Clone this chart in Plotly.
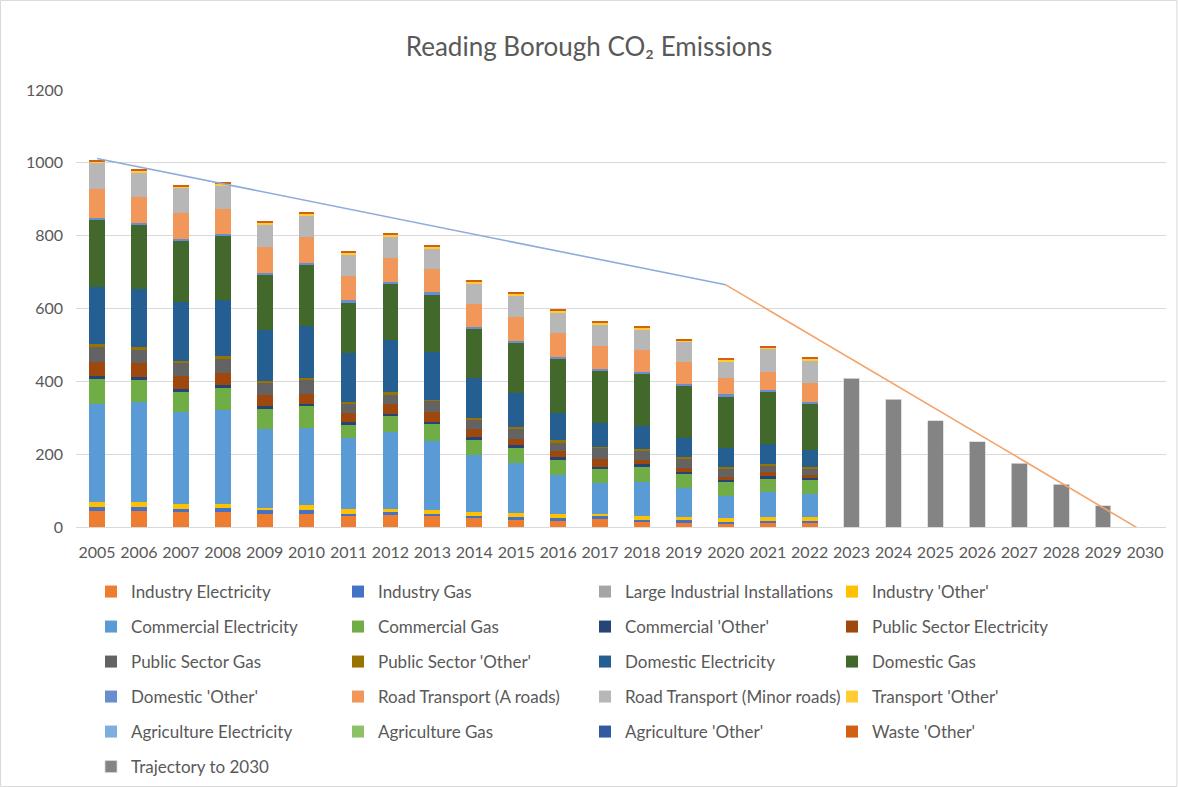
import plotly.graph_objects as go

years_all = [str(y) for y in range(2005, 2031)]
years_hist = [str(y) for y in range(2005, 2023)]
years_traj = [str(y) for y in range(2023, 2030)]

ind_elec    = [44, 44, 41, 41, 35, 35, 30, 34, 32, 26, 20, 19, 24, 16, 12, 10, 12, 12]
ind_gas     = [12, 12, 9, 12, 11, 11, 6, 7, 5, 5, 8, 5, 5, 4, 6, 5, 5, 5]
large_ind   = [0] * 18
ind_other   = [13, 13, 14, 11, 7, 14, 14, 9, 11, 10, 11, 11, 8, 10, 10, 11, 11, 10]
com_elec    = [268, 274, 252, 256, 217, 211, 194, 211, 189, 158, 137, 109, 85, 93, 78, 60, 67, 65]
com_gas     = [70, 60, 56, 62, 55, 60, 38, 44, 46, 40, 40, 40, 38, 43, 40, 37, 38, 38]
com_other   = [8, 9, 8, 8, 7, 8, 5, 5, 5, 8, 9, 8, 5, 8, 5, 6, 7, 5]
ps_elec     = [38, 38, 35, 34, 31, 27, 27, 29, 27, 22, 18, 16, 22, 10, 10, 7, 12, 9]
ps_gas      = [44, 38, 37, 40, 33, 38, 24, 26, 31, 25, 27, 25, 30, 27, 27, 25, 16, 16]
ps_other    = [5, 5, 5, 5, 5, 4, 5, 5, 4, 4, 4, 5, 4, 4, 3, 4, 5, 4]
dom_elec    = [158, 161, 161, 154, 139, 143, 135, 143, 131, 110, 93, 76, 65, 61, 54, 51, 54, 48]
dom_gas     = [184, 176, 168, 175, 153, 169, 139, 156, 158, 136, 140, 149, 143, 145, 143, 143, 145, 126]
dom_other   = [5, 4, 5, 6, 5, 5, 5, 5, 5, 5, 5, 5, 5, 6, 5, 5, 5, 4]
road_a      = [80, 72, 71, 68, 70, 70, 67, 64, 64, 62, 64, 64, 62, 60, 59, 44, 50, 54]
road_minor  = [70, 68, 69, 66, 63, 61, 60, 60, 58, 58, 57, 58, 61, 55, 56, 47, 62, 61]
trans_other = [6, 5, 5, 5, 5, 5, 5, 5, 5, 5, 7, 5, 5, 6, 5, 5, 5, 6]
agri_elec   = [0] * 18
agri_gas    = [0] * 18
agri_other  = [0] * 18
waste_other = [4, 4, 3, 3, 3, 3, 4, 4, 3, 4, 4, 3, 3, 4, 3, 4, 3, 4]

trajectory = [409, 351, 292, 234, 175, 117, 58]

line1_x = ["2005", "2020"]
line1_y = [1012, 665]
line2_x = ["2020", "2030"]
line2_y = [665, -15]

series = [
    ("Industry Electricity", ind_elec, "#ED7D31"),
    ("Industry Gas", ind_gas, "#4472C4"),
    ("Large Industrial Installations", large_ind, "#A5A5A5"),
    ("Industry 'Other'", ind_other, "#FFC000"),
    ("Commercial Electricity", com_elec, "#5B9BD5"),
    ("Commercial Gas", com_gas, "#70AD47"),
    ("Commercial 'Other'", com_other, "#264478"),
    ("Public Sector Electricity", ps_elec, "#9E480E"),
    ("Public Sector Gas", ps_gas, "#636363"),
    ("Public Sector 'Other'", ps_other, "#997300"),
    ("Domestic Electricity", dom_elec, "#255E91"),
    ("Domestic Gas", dom_gas, "#43682B"),
    ("Domestic 'Other'", dom_other, "#698ED0"),
    ("Road Transport (A roads)", road_a, "#F1975A"),
    ("Road Transport (Minor roads)", road_minor, "#B7B7B7"),
    ("Transport 'Other'", trans_other, "#FFCD33"),
    ("Agriculture Electricity", agri_elec, "#7CAFDD"),
    ("Agriculture Gas", agri_gas, "#8CC168"),
    ("Agriculture 'Other'", agri_other, "#335AA1"),
    ("Waste 'Other'", waste_other, "#D26012"),
]

FONT = "Lato"
TXT = "#595959"

fig = go.Figure()
legend_names = ["legend", "legend2", "legend3", "legend4", "legend5", "legend6"]
for i, (name, vals, col) in enumerate(series):
    fig.add_trace(go.Bar(x=years_hist, y=vals, name=name, marker_color=col,
                         marker_line_width=0, legend=legend_names[i // 4]))
fig.add_trace(go.Bar(x=years_traj, y=trajectory, name="Trajectory to 2030",
                     marker_color="#848484", marker_line_color="#D9D9D9",
                     marker_line_width=0.8, legend="legend6"))
fig.add_trace(go.Scatter(x=line1_x, y=line1_y, mode="lines", showlegend=False,
                         line=dict(color="#8FAADC", width=1.6)))
fig.add_trace(go.Scatter(x=line2_x, y=line2_y, mode="lines", showlegend=False,
                         line=dict(color="#F4A46A", width=1.6)))

ML, MR, MT, MB = 76, 12, 90, 260
W, H = 1178, 787
pw = W - ML - MR
ph = H - MT - MB

row_px = [592, 627, 662, 697, 732, 767]
leg_x_px = 91
layout_legends = {}
for k, ln in enumerate(legend_names):
    layout_legends[ln] = dict(
        orientation="h", entrywidth=202, entrywidthmode="pixels",
        x=(leg_x_px - ML) / pw, xanchor="left",
        y=(MT + ph - row_px[k]) / ph, yanchor="middle",
        font=dict(family=FONT, size=17, color=TXT),
        itemwidth=30, traceorder="normal", bgcolor="rgba(0,0,0,0)",
    )

fig.update_layout(
    width=W, height=H,
    barmode="stack", bargap=0.625,
    paper_bgcolor="white", plot_bgcolor="white",
    margin=dict(l=ML, r=MR, t=MT, b=MB, autoexpand=False),
    title=dict(text="Reading Borough CO₂ Emissions", x=0.5, xanchor="center",
               y=1 - 47 / H, yanchor="middle",
               font=dict(family=FONT, size=26, color=TXT)),
    xaxis=dict(type="category", categoryorder="array", categoryarray=years_all,
               range=[-0.5, 25.5], tickfont=dict(family=FONT, size=16, color=TXT),
               showgrid=False, showline=True, linecolor="#D9D9D9", linewidth=1,
               ticks="", ticklabelstandoff=11),
    yaxis=dict(range=[0, 1200], dtick=200, tickfont=dict(family=FONT, size=16, color=TXT),
               showgrid=True, gridcolor="#D9D9D9", gridwidth=1, zeroline=False,
               showline=False, ticks="", ticklabelstandoff=12),
    font=dict(family=FONT, color=TXT),
    showlegend=True,
    **layout_legends,
)

fig.add_shape(type="rect", xref="paper", yref="paper",
              x0=-ML / pw + 0.0005, x1=1 + MR / pw - 0.001,
              y0=-MB / ph + 0.001, y1=1 + MT / ph - 0.001,
              line=dict(color="#D9D9D9", width=1), fillcolor="rgba(0,0,0,0)", layer="below")

fig.write_html("out.html", config={"displayModeBar": False},
               post_script="document.body.style.margin='0px';")
